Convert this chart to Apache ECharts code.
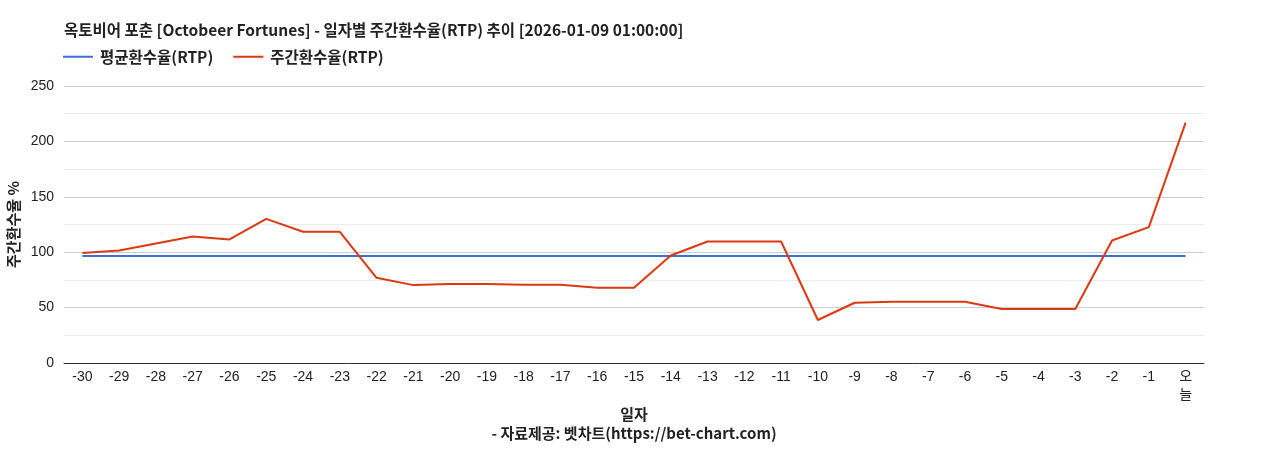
<!DOCTYPE html>
<html>
<head>
<meta charset="utf-8">
<script src="https://cdn.jsdelivr.net/npm/echarts@6/dist/echarts.min.js"></script>
<style>
html,body{margin:0;padding:0;background:#fff;}
#c{width:1268px;height:450px;}
</style>
</head>
<body>
<div id="c"></div>
<script>
const categories = ['-30','-29','-28','-27','-26','-25','-24','-23','-22','-21','-20','-19','-18','-17','-16','-15','-14','-13','-12','-11','-10','-9','-8','-7','-6','-5','-4','-3','-2','-1','오\n늘'];
const weeklyRTP = [99.2,101.5,107.8,114.2,111.5,130.1,118.4,118.4,76.9,70.3,71.2,71.2,70.6,70.6,67.9,67.9,97.0,109.7,109.7,109.7,38.8,54.4,55.3,55.3,55.3,48.7,48.7,48.7,110.6,122.6,217.0];
const avgValue = 96.5;
const avgRTP = categories.map(() => avgValue);
const yTicks = {min: 0, max: 250, interval: 50};

const fontKR = "'Noto Sans CJK KR', sans-serif";
const fontTick = "'Liberation Sans', 'Noto Sans CJK KR', sans-serif";
const chart = echarts.init(document.getElementById('c'));
chart.setOption({
  animation: false,
  backgroundColor: '#fff',
  title: {
    text: '옥토비어 포춘 [Octobeer Fortunes] - 일자별 주간환수율(RTP) 추이 [2026-01-09 01:00:00]',
    left: 59, top: 17,
    textStyle: {fontSize: 15.5, fontWeight: 'bold', color: '#222', fontFamily: fontKR}
  },
  legend: {
    left: 58, top: 44,
    icon: 'rect',
    itemWidth: 30, itemHeight: 2, itemGap: 20,
    textStyle: {fontSize: 15.5, fontWeight: 'bold', color: '#222', fontFamily: fontKR, padding: [0, 0, 0, 2]},
    data: ['평균환수율(RTP)', '주간환수율(RTP)']
  },
  graphic: [{
    type: 'text', left: 'center', top: 426,
    style: {text: '- 자료제공: 벳차트(https://bet-chart.com)', fontSize: 15, fontWeight: 'bold', fill: '#222', fontFamily: fontKR}
  }],
  grid: {left: 64, right: 64, top: 86, bottom: 87, containLabel: false, outerBoundsMode: 'none'},
  xAxis: {
    type: 'category',
    data: categories,
    boundaryGap: true,
    name: '일자',
    nameLocation: 'middle',
    nameGap: 44,
    nameMoveOverlap: false,
    nameTextStyle: {fontSize: 15, fontWeight: 'bold', color: '#222', fontFamily: fontKR},
    axisLine: {lineStyle: {color: '#333', width: 1}},
    axisTick: {show: false},
    axisLabel: {fontSize: 14, color: '#222', margin: 5, interval: 0, lineHeight: 18, fontFamily: fontTick},
    splitLine: {show: false}
  },
  yAxis: {
    type: 'value',
    min: yTicks.min, max: yTicks.max, interval: yTicks.interval,
    name: '주간환수율 %',
    nameLocation: 'middle',
    nameRotate: 90,
    nameGap: 43,
    nameMoveOverlap: false,
    nameTextStyle: {fontSize: 15, fontWeight: 'bold', color: '#222', fontFamily: fontKR},
    axisLine: {show: false},
    axisTick: {show: false},
    axisLabel: {fontSize: 14, color: '#222', margin: 10, fontFamily: fontTick},
    splitLine: {lineStyle: {color: '#cccccc', width: 1}},
    minorTick: {show: false, splitNumber: 2},
    minorSplitLine: {show: true, lineStyle: {color: '#ebebeb', width: 1}}
  },
  series: [
    {
      name: '평균환수율(RTP)', type: 'line', data: avgRTP,
      symbol: 'none', lineStyle: {color: '#3a6fd6', width: 2}, itemStyle: {color: '#3a6fd6'}
    },
    {
      name: '주간환수율(RTP)', type: 'line', data: weeklyRTP,
      symbol: 'none', lineStyle: {color: '#dc3912', width: 2}, itemStyle: {color: '#dc3912'}
    }
  ]
});
</script>
</body>
</html>
